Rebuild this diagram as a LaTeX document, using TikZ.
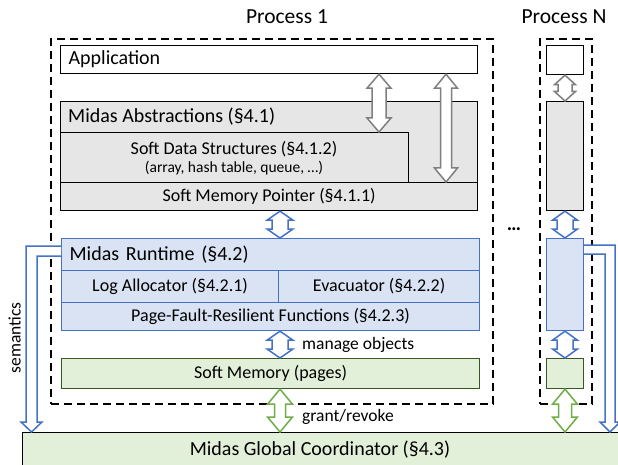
\documentclass[tikz,border=0pt]{standalone}
\usepackage{fontspec}
\setmainfont{Carlito}
\usetikzlibrary{calc}
\definecolor{grayfill}{HTML}{E7E6E6}
\definecolor{bluefill}{HTML}{DAE3F3}
\definecolor{blueline}{HTML}{4472C4}
\definecolor{greenfill}{HTML}{E2F0D9}
\definecolor{greenline}{HTML}{385723}
\definecolor{greenarrow}{HTML}{70AD47}
\definecolor{grayarrow}{HTML}{7F7F7F}
% vertical hollow double arrow: [style]{x}{top anchor}{bottom anchor}{head half width}{shaft half width}{head length}
\newcommand{\dbl}[7][]{%
  \draw[#1] let \p1=(#2,0 |- #3), \p2=(#2,0 |- #4), \n1={\y1-\y2-2*(#7)} in
  (\p1) -- ++(#5,#7) -- ++({(#6)-(#5)},0) -- ++(0pt,-\n1) -- ++({(#5)-(#6)},0)
  -- ++({-(#5)},#7) -- ++({-(#5)},{-(#7)}) -- ++({(#5)-(#6)},0) -- ++(0pt,\n1) -- ++({(#6)-(#5)},0) -- cycle;}
\begin{document}
\begin{tikzpicture}[x=1pt,y=-1pt,
  box/.style={draw, rectangle, anchor=north west, inner sep=0pt, line width=1.2pt},
  graybox/.style={box, fill=grayfill, draw=black},
  bluebox/.style={box, fill=bluefill, draw=blueline},
  greenbox/.style={box, fill=greenfill, draw=greenline},
  whitebox/.style={box, fill=white, draw=black},
  proc/.style={draw=black, rectangle, anchor=north west, inner sep=0pt, dash pattern=on 8pt off 5pt, line width=1.8pt},
  big/.style={font=\fontsize{20}{24}\selectfont},
  mid/.style={font=\fontsize{18}{21}\selectfont},
  small/.style={font=\fontsize{15.5}{18}\selectfont},
  lbl/.style={font=\fontsize{17.5}{21}\selectfont},
  arr/.style={line width=1.5pt, fill=white, line join=miter},
]
\useasboundingbox (0,0) rectangle (618,465);

% process frames
\node[proc, minimum width=442pt, minimum height=365pt] (p1) at (50,38) {};
\node[proc, minimum width=52pt, minimum height=365pt] (pn) at (539,38) {};
\node[font=\fontsize{21.5}{25}\selectfont] (p1label) at (287,17) {Process 1};
\node[font=\fontsize{21.5}{25}\selectfont] (pnlabel) at (564,17) {Process N};

% process 1
\node[whitebox, big, text width=401pt, inner xsep=8pt, align=left, minimum height=28pt] (app) at (60,45) {Application};
\node[graybox, minimum width=417pt, minimum height=109pt] (abs) at (60,101) {};
\node[big, anchor=west, inner sep=0pt] (abstitle) at (68,117) {Midas Abstractions (§4.1)};
\node[graybox, minimum width=348pt, minimum height=50pt] (sds) at (60,132) {};
\node[mid] (sdsA) at (234,149) {Soft Data Structures (§4.1.2)};
\node[small] (sdsB) at (234,168) {(array, hash table, queue, …)};
\node[graybox, mid, minimum width=417pt, minimum height=28pt] (smp) at (60,182) {Soft Memory Pointer (§4.1.1)};

\node[bluebox, big, text width=402pt, inner xsep=8pt, align=left, minimum height=32pt] (rt1) at (61,238) {Midas Runtime (§4.2)};
\node[bluebox, mid, minimum width=217pt, minimum height=32pt] (rt2a) at (61,270) {Log Allocator (§4.2.1)};
\node[bluebox, mid, minimum width=201pt, minimum height=32pt] (rt2b) at (278,270) {Evacuator (§4.2.2)};
\node[bluebox, mid, minimum width=418pt, minimum height=28pt] (rt3) at (61,302) {Page-Fault-Resilient Functions (§4.2.3)};
\node[greenbox, mid, minimum width=418pt, minimum height=30pt] (sm) at (61,358) {Soft Memory (pages)};

% global coordinator
\node[box, fill=greenfill, draw=black, minimum width=610pt, minimum height=45pt] (coord) at (22,432) {};
\node[big] (coordtext) at (320,450) {Midas Global Coordinator (§4.3)};

% process N
\node[whitebox, minimum width=37pt, minimum height=29pt] (pna) at (546,45) {};
\node[graybox, minimum width=37pt, minimum height=109pt] (pnb) at (546,101) {};
\node[bluebox, minimum width=37pt, minimum height=92pt] (pnc) at (546,238) {};
\node[greenbox, minimum width=37pt, minimum height=30pt] (pnd) at (546,358) {};

\node[font=\bfseries\fontsize{20}{24}\selectfont, anchor=base] (dots) at (514,230) {…};

% arrows in process 1
\dbl[arr, draw=grayarrow]{379}{app.south}{sds.north}{12}{7}{14}
\dbl[arr, draw=grayarrow]{446}{app.south}{smp.north}{11.5}{5.5}{14}
\dbl[arr, draw=blueline]{280}{smp.south}{rt1.north}{13}{8}{9}
\dbl[arr, draw=blueline]{280}{rt3.south}{sm.north}{13}{8}{9}
\dbl[arr, draw=greenarrow]{280}{sm.south}{coord.north}{12.5}{5.5}{15}

% arrows in process N
\dbl[arr, draw=grayarrow]{565}{pna.south}{pnb.north}{10.5}{7}{9.5}
\dbl[arr, draw=blueline]{565}{pnb.south}{pnc.north}{12.5}{8}{9}
\dbl[arr, draw=blueline]{565}{pnc.south}{pnd.north}{12.5}{8}{9}
\dbl[arr, draw=greenarrow]{565}{pnd.south}{coord.north}{12.5}{6.5}{15}

% semantics arrows
\draw[arr, draw=blueline] let \p1=(rt1.north west), \p2=(coord.north) in
  (\x1,\y1-8pt) -- (26pt,\y1-8pt) -- (26pt,\y2+10pt) -- (21pt,\y2+10pt) -- (31.5pt,\y2)
  -- (42pt,\y2+10pt) -- (37pt,\y2+10pt) -- (37pt,\y1-18pt) -- (\x1,\y1-18pt);
\draw[arr, draw=blueline] let \p1=(pnc.north east), \p2=(coord.north) in
  (\x1,\y1-7pt) -- (615pt,\y1-7pt) -- (615pt,\y2+10pt) -- (620pt,\y2+10pt) -- (610pt,\y2)
  -- (600pt,\y2+10pt) -- (605pt,\y2+10pt) -- (605pt,\y1-16pt) -- (\x1,\y1-16pt);

% labels
\node[lbl, rotate=90, anchor=base] (sem) at (20.5,338) {semantics};
\node[lbl, anchor=base west, inner sep=0pt] (manage) at (302,349) {manage objects};
\node[lbl, anchor=base west, inner sep=0pt] (grant) at (302,421) {grant/revoke};
\end{tikzpicture}
\end{document}
